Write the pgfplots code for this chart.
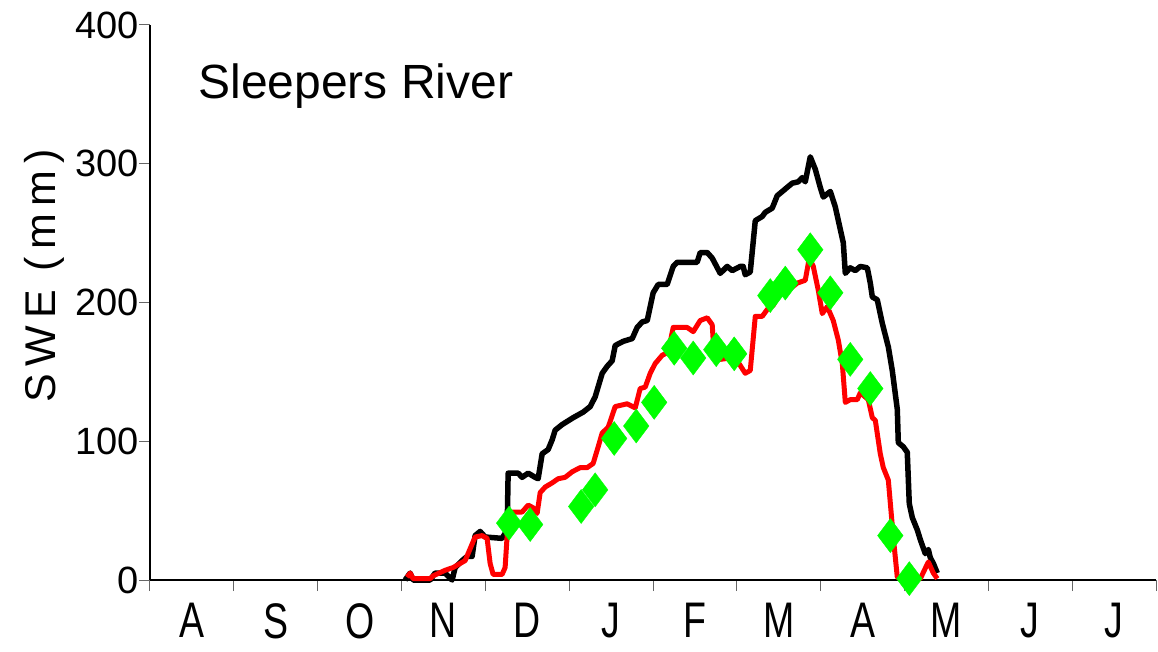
\documentclass[border=0pt]{standalone}
\usepackage{fontspec}
\setmainfont{Liberation Sans}
\newfontfamily\narrowfont[FakeStretch=0.75]{Liberation Sans}
\usepackage{pgfplots}
\pgfplotsset{compat=1.18}
\definecolor{dgreen}{RGB}{0,255,0}
\pgfplotstableread{
m swe
3.043 0
3.103 5
3.138 0
3.341 0
3.401 5
3.520 5
3.604 0
3.640 9
3.723 14
3.783 17
3.842 17
3.878 32
3.938 35
3.998 31
4.200 30
4.260 36
4.272 77
4.391 77
4.439 74
4.511 77
4.594 74
4.630 73
4.678 91
4.749 94
4.797 101
4.833 108
4.916 112
5.048 117
5.167 121
5.251 125
5.310 132
5.394 149
5.453 154
5.513 158
5.549 169
5.644 172
5.752 174
5.811 182
5.871 186
5.931 187
6.002 207
6.062 213
6.169 213
6.241 226
6.289 229
6.527 229
6.563 236
6.647 236
6.706 232
6.802 221
6.885 226
6.945 223
7.041 226
7.076 226
7.100 220
7.160 222
7.220 259
7.303 262
7.339 265
7.422 268
7.482 277
7.542 280
7.601 283
7.661 286
7.733 287
7.780 290
7.816 287
7.876 305
7.936 296
7.995 283
8.031 276
8.115 280
8.174 269
8.270 243
8.294 221
8.353 225
8.413 223
8.473 226
8.556 225
8.592 214
8.616 204
8.675 202
8.735 185
8.807 168
8.854 151
8.914 123
8.926 99
8.986 96
9.033 92
9.057 55
9.093 45
9.153 36
9.189 29
9.248 19
9.284 22
9.308 16
9.344 12
9.391 5
}\blackdata
\pgfplotstableread{
m swe
3.067 2
3.103 5
3.138 1
3.341 1
3.377 3
3.520 7
3.616 9
3.759 14
3.878 31
3.962 32
4.021 30
4.057 12
4.093 4
4.200 4
4.236 9
4.272 43
4.320 49
4.439 49
4.511 54
4.571 52
4.618 48
4.654 63
4.714 67
4.797 70
4.869 73
4.952 74
5.036 78
5.131 81
5.215 81
5.286 84
5.346 96
5.394 106
5.465 110
5.549 125
5.692 127
5.788 124
5.847 138
5.907 139
5.967 149
6.026 156
6.110 162
6.181 164
6.241 182
6.408 182
6.480 179
6.563 187
6.647 189
6.706 184
6.718 173
6.802 159
6.921 160
7.005 158
7.100 149
7.160 151
7.220 190
7.303 190
7.363 195
7.434 198
7.518 207
7.637 210
7.721 214
7.816 216
7.864 232
7.912 226
7.971 209
8.019 192
8.079 197
8.150 187
8.210 173
8.258 156
8.294 128
8.353 130
8.437 130
8.473 135
8.568 130
8.616 117
8.652 115
8.711 91
8.747 81
8.807 72
8.866 31
8.914 2
8.950 1
9.189 1
9.284 13
9.344 5
9.391 1
}\reddata
\pgfplotstableread{
m swe
4.284 41
4.535 40
5.143 53
5.310 65
5.537 102
5.800 111
6.014 128
6.253 167
6.480 160
6.754 166
6.969 163
7.399 205
7.578 214
7.876 238
8.115 207
8.353 159
8.592 138
8.831 32
9.057 1
}\greendata
\begin{document}
\begin{tikzpicture}
\begin{axis}[
  scale only axis, width=1006pt, height=555pt,
  xmin=0, xmax=12, ymin=0, ymax=400,
  axis lines*=left,
  axis line style={line width=1.3pt},
  xtick={0,...,12},
  xticklabels={A,S,O,N,D,J,F,M,A,M,J,J},
  x tick label as interval,
  ytick={0,100,200,300,400},
  tick align=outside, major tick length=11pt,
  tick style={line width=1pt, color=black!60},
  /pgf/number format/assume math mode=true,
  yticklabel style={font=\fontsize{38}{38}\selectfont, xshift=3pt},
  xticklabel style={font=\narrowfont\fontsize{50}{50}\selectfont, yshift=-9pt},
  ylabel={\addfontfeature{LetterSpace=17}SWE (mm)},
  ylabel style={font=\fontsize{43}{43}\selectfont, at={(axis description cs:-0.1054,0.548)}, anchor=center},
  clip=false,
]
\addplot[black, line width=5.5pt, line join=round] table[x=m, y=swe] {\blackdata};
\addplot[red, line width=5pt, line join=round] table[x=m, y=swe] {\reddata};
\addplot[only marks, mark=diamond*, mark size=17pt, color=dgreen, mark options={draw=dgreen, fill=dgreen}] table[x=m, y=swe] {\greendata};
\node[anchor=base west, font=\fontsize{48}{48}\selectfont] at (rel axis cs:0.0447,0.868) {Sleepers River};
\end{axis}
\path (current axis.south west) ++(-150pt,-71pt) coordinate (bl);
\path (current axis.north east) ++(2pt,25pt) coordinate (tr);
\path (bl) rectangle (tr);
\end{tikzpicture}
\end{document}
